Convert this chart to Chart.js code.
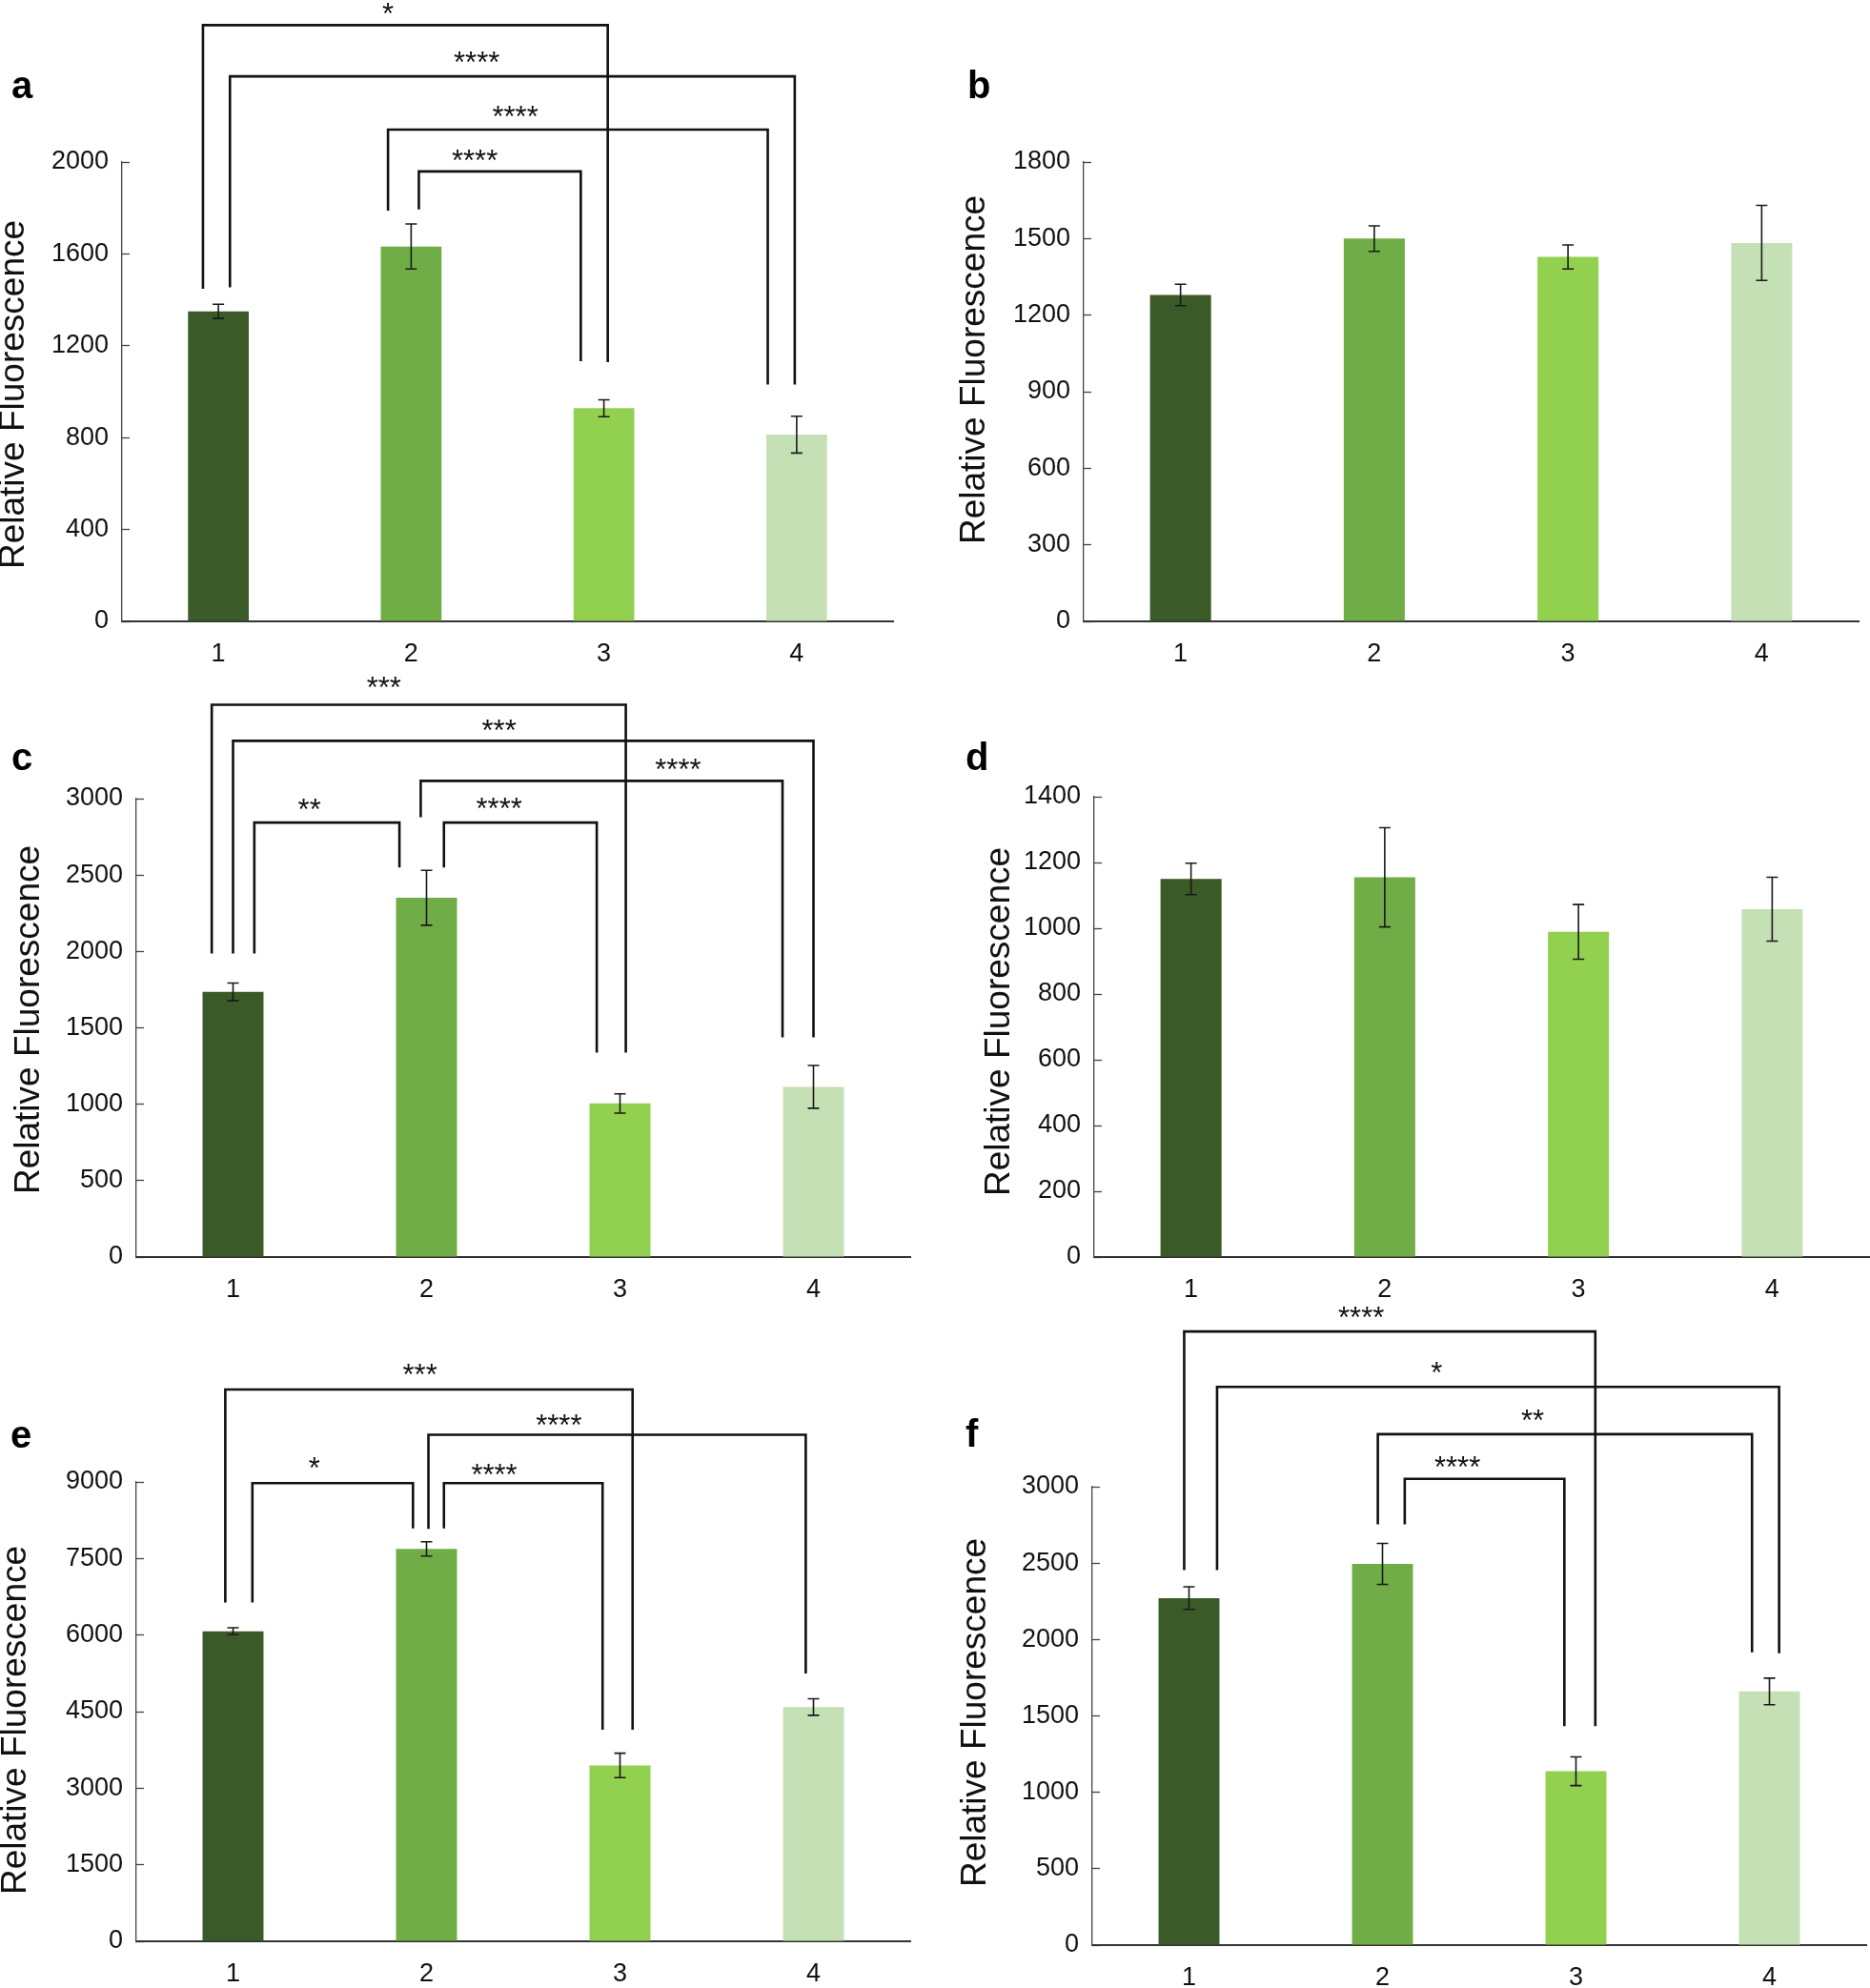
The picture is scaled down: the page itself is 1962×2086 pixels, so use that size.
<!DOCTYPE html>
<html>
<head>
<meta charset="utf-8">
<script src="https://cdn.jsdelivr.net/npm/chart.js@4.4.1/dist/chart.umd.min.js"></script>
<style>
  html, body { margin: 0; padding: 0; background: #fff; }
  #wrap { position: relative; width: 1962px; height: 2086px; overflow: hidden; background: #fff; }
  #wrap canvas { position: absolute; left: 0; top: 0; }
</style>
</head>
<body>
<div id="wrap"></div>
<script>
/* ── data ───────────────────────────────────────────────────────────────── */
const CATS = ['1', '2', '3', '4'];
const BAR_COLORS = ['#3a5a27', '#70ad47', '#92d050', '#c5e0b4'];
const Y_TITLE = 'Relative Fluorescence';

const A_VALS = [1350, 1632, 928, 813];
const A_ERR  = [31, 98, 37, 80];
const A_MAX = 2000, A_STEP = 400;
/* brackets: [leftX, rightX, top, leftLegBottom, rightLegBottom] in category index / data units */
const A_BRACKETS = [
  [-0.08, 2.02, 2596, 1448, 1129],
  [0.06, 2.99, 2373, 1454, 1031],
  [0.88, 2.85, 2141, 1788, 1031],
  [1.04, 1.88, 1959, 1794, 1133]
];
const A_STARS = [['*', 0.88, 2674], ['****', 1.34, 2464], ['****', 1.54, 2225], ['****', 1.33, 2035]];

const B_VALS = [1279, 1500, 1428, 1483];
const B_ERR  = [42, 50, 47, 147];
const B_MAX = 1800, B_STEP = 300;
const B_BRACKETS = [];
const B_STARS = [];

const C_VALS = [1735, 2351, 1005, 1114];
const C_ERR  = [58, 180, 63, 140];
const C_MAX = 3000, C_STEP = 500;
const C_BRACKETS = [
  [-0.11, 2.03, 3614, 1986, 1338],
  [0.0, 3.0, 3378, 1986, 1438],
  [0.97, 2.84, 3116, 2878, 1438],
  [0.11, 0.86, 2843, 1986, 2549],
  [1.09, 1.88, 2843, 2549, 1338]
];
const C_STARS = [['***', 0.78, 3770], ['***', 1.375, 3492], ['****', 2.30, 3235], ['**', 0.395, 2973], ['****', 1.375, 2978]];

const D_VALS = [1150, 1155, 989, 1058];
const D_ERR  = [48, 151, 83, 97];
const D_MAX = 1400, D_STEP = 200;
const D_BRACKETS = [];
const D_STARS = [];

const E_VALS = [6075, 7688, 3447, 4590];
const E_ERR  = [68, 141, 239, 162];
const E_MAX = 9000, E_STEP = 1500;
const E_BRACKETS = [
  [-0.04, 2.065, 10811, 6638, 4147],
  [1.01, 2.96, 9923, 8080, 5247],
  [0.10, 0.93, 8976, 6638, 8089],
  [1.09, 1.91, 8976, 8089, 4147]
];
const E_STARS = [['***', 0.966, 11237], ['****', 1.684, 10239], ['*', 0.42, 9403], ['****', 1.35, 9283]];

const F_VALS = [2271, 2495, 1138, 1660];
const F_ERR  = [74, 134, 94, 87];
const F_MAX = 3000, F_STEP = 500;
const F_BRACKETS = [
  [-0.025, 2.10, 4016, 2455, 1433],
  [0.145, 3.05, 3653, 2455, 1910],
  [0.976, 2.91, 3344, 2753, 1916],
  [1.115, 1.94, 3051, 2753, 1433]
];
const F_STARS = [['****', 0.89, 4150], ['*', 1.28, 3789], ['**', 1.776, 3477], ['****', 1.387, 3173]];

/* ── page layout (page pixel coords) ────────────────────────────────────── */
const PAGE_W = 1962, PAGE_H = 2086;
const Y_AXIS_W = 90, X_AXIS_H = 50;
const FONT = '"Liberation Sans", Arial, Helvetica, sans-serif';

const PANELS = [
  { letter: 'a', vals: A_VALS, errs: A_ERR, max: A_MAX, step: A_STEP, brackets: A_BRACKETS, stars: A_STARS,
    area: { l: 128, t: 170, r: 937, b: 652 }, letterAt: [12, 103], titleAt: [15, 414] },
  { letter: 'b', vals: B_VALS, errs: B_ERR, max: B_MAX, step: B_STEP, brackets: B_BRACKETS, stars: B_STARS,
    area: { l: 1137, t: 170, r: 1950, b: 652 }, letterAt: [1015, 103], titleAt: [1023, 388] },
  { letter: 'c', vals: C_VALS, errs: C_ERR, max: C_MAX, step: C_STEP, brackets: C_BRACKETS, stars: C_STARS,
    area: { l: 143, t: 838, r: 955, b: 1319 }, letterAt: [12, 808], titleAt: [31, 1070] },
  { letter: 'd', vals: D_VALS, errs: D_ERR, max: D_MAX, step: D_STEP, brackets: D_BRACKETS, stars: D_STARS,
    area: { l: 1148, t: 836, r: 1961, b: 1319 }, letterAt: [1013, 808], titleAt: [1049, 1072] },
  { letter: 'e', vals: E_VALS, errs: E_ERR, max: E_MAX, step: E_STEP, brackets: E_BRACKETS, stars: E_STARS,
    area: { l: 143, t: 1555, r: 955, b: 2037 }, letterAt: [11, 1519], titleAt: [17, 1805] },
  { letter: 'f', vals: F_VALS, errs: F_ERR, max: F_MAX, step: F_STEP, brackets: F_BRACKETS, stars: F_STARS,
    area: { l: 1146, t: 1560, r: 1958, b: 2041 }, letterAt: [1013, 1518], titleAt: [1024, 1797] }
];

/* ── annotations: error bars, significance brackets, letters, y titles ──── */
function makeAnnot(p) {
  return {
    id: 'annot_' + p.letter,
    afterDatasetsDraw(chart) {
      const ctx = chart.ctx, xs = chart.scales.x, ys = chart.scales.y;
      ctx.save();

      /* error bars */
      ctx.strokeStyle = '#1a1a1a';
      ctx.lineWidth = 1.6;
      p.vals.forEach((v, i) => {
        const x = xs.getPixelForValue(i);
        const y1 = ys.getPixelForValue(v + p.errs[i]);
        const y2 = ys.getPixelForValue(v - p.errs[i]);
        ctx.beginPath();
        ctx.moveTo(x, y1); ctx.lineTo(x, y2);
        ctx.moveTo(x - 6, y1); ctx.lineTo(x + 6, y1);
        ctx.moveTo(x - 6, y2); ctx.lineTo(x + 6, y2);
        ctx.stroke();
      });

      /* brackets */
      ctx.strokeStyle = '#111';
      ctx.lineWidth = 2.6;
      ctx.lineJoin = 'miter';
      p.brackets.forEach(([x1, x2, top, yl, yr]) => {
        ctx.beginPath();
        ctx.moveTo(xs.getPixelForValue(x1), ys.getPixelForValue(yl));
        ctx.lineTo(xs.getPixelForValue(x1), ys.getPixelForValue(top));
        ctx.lineTo(xs.getPixelForValue(x2), ys.getPixelForValue(top));
        ctx.lineTo(xs.getPixelForValue(x2), ys.getPixelForValue(yr));
        ctx.stroke();
      });

      /* stars */
      const sz = 31;
      ctx.fillStyle = '#111';
      ctx.font = sz + 'px ' + FONT;
      ctx.textAlign = 'center';
      ctx.textBaseline = 'alphabetic';
      p.stars.forEach(([txt, x, y]) => {
        ctx.fillText(txt, xs.getPixelForValue(x), ys.getPixelForValue(y) + sz * 0.57);
      });
      ctx.restore();
    },
    afterDraw(chart) {
      const ctx = chart.ctx;
      ctx.save();
      ctx.fillStyle = '#000';
      ctx.font = 'bold 40px ' + FONT;
      ctx.textAlign = 'left';
      ctx.textBaseline = 'alphabetic';
      ctx.fillText(p.letter, p.letterAt[0], p.letterAt[1]);

      ctx.fillStyle = '#111';
      ctx.font = '37px ' + FONT;
      ctx.translate(p.titleAt[0], p.titleAt[1]);
      ctx.rotate(-Math.PI / 2);
      ctx.textAlign = 'center';
      ctx.textBaseline = 'middle';
      ctx.fillText(Y_TITLE, 0, 0);
      ctx.restore();
    }
  };
}

/* ── build one chart per panel ──────────────────────────────────────────── */
const wrap = document.getElementById('wrap');

PANELS.forEach(p => {
  const cv = document.createElement('canvas');
  cv.width = PAGE_W;
  cv.height = PAGE_H;
  wrap.appendChild(cv);

  new Chart(cv.getContext('2d'), {
    type: 'bar',
    data: {
      labels: CATS,
      datasets: [{
        data: p.vals,
        backgroundColor: BAR_COLORS,
        borderWidth: 0,
        barPercentage: 1,
        categoryPercentage: 0.315
      }]
    },
    options: {
      responsive: false,
      animation: false,
      events: [],
      layout: {
        padding: {
          left: p.area.l - Y_AXIS_W,
          top: p.area.t,
          right: PAGE_W - p.area.r,
          bottom: PAGE_H - p.area.b - X_AXIS_H
        }
      },
      plugins: { legend: { display: false }, tooltip: { enabled: false } },
      scales: {
        x: {
          type: 'category',
          offset: true,
          grid: { display: false, drawTicks: false },
          border: { display: true, color: '#333', width: 2 },
          ticks: { color: '#111', font: { family: FONT, size: 27 }, padding: 18, maxRotation: 0 },
          afterFit: s => { s.height = X_AXIS_H; }
        },
        y: {
          min: 0,
          max: p.max,
          grid: { drawOnChartArea: false, drawTicks: true, tickLength: -8, color: '#444', tickWidth: 1.3 },
          border: { display: true, color: '#444', width: 1.3 },
          ticks: {
            stepSize: p.step,
            color: '#111',
            font: { family: FONT, size: 27 },
            padding: 22,
            callback: v => String(v)
          },
          afterFit: s => { s.width = Y_AXIS_W; }
        }
      }
    },
    plugins: [makeAnnot(p)]
  });
});
</script>
</body>
</html>
